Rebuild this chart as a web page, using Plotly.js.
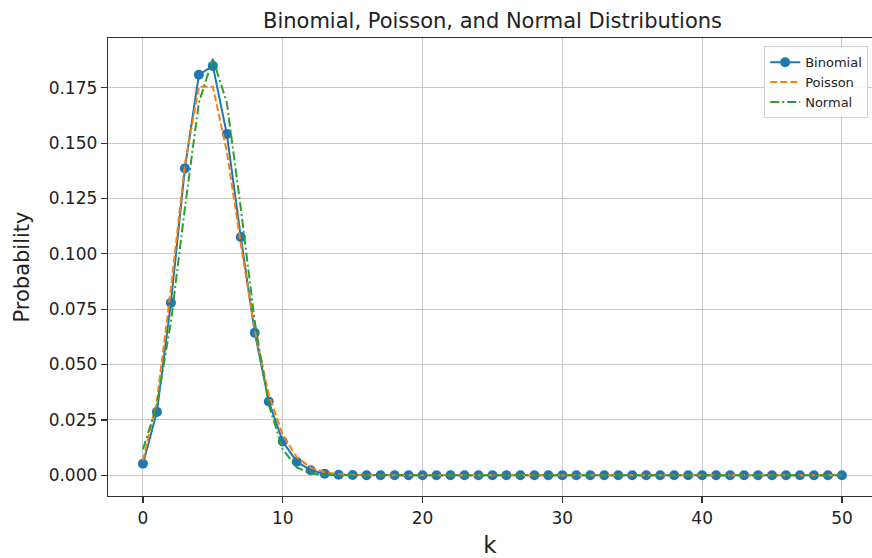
<!DOCTYPE html>
<html>
<head>
<meta charset="utf-8">
<script src="https://cdn.plot.ly/plotly-3.0.1.min.js"></script>
<style>html,body{margin:0;padding:0;background:#fff;}#chart{width:872px;height:558px;}</style>
</head>
<body>
<div id="chart"></div>
<script>
// k values 0..50
const kValues = [0,1,2,3,4,5,6,7,8,9,10,11,12,13,14,15,16,17,18,19,20,21,22,23,24,25,26,27,28,29,30,31,32,33,34,35,36,37,38,39,40,41,42,43,44,45,46,47,48,49,50];

const binomialProb = [0.0052,0.0286,0.0779,0.1386,0.1809,0.1849,0.1541,0.1076,0.0643,0.0333,0.0152,0.0061,0.0022,0.0007,0.0002,0.0001,0,0,0,0,0,0,0,0,0,0,0,0,0,0,0,0,0,0,0,0,0,0,0,0,0,0,0,0,0,0,0,0,0,0,0];

const poissonProb = [0.0067,0.0337,0.0842,0.1404,0.1755,0.1755,0.1462,0.1044,0.0653,0.0363,0.0181,0.0082,0.0034,0.0013,0.0005,0.0002,0,0,0,0,0,0,0,0,0,0,0,0,0,0,0,0,0,0,0,0,0,0,0,0,0,0,0,0,0,0,0,0,0,0,0];

const normalProb = [0.0117,0.0318,0.0692,0.1206,0.1683,0.1881,0.1683,0.1206,0.0692,0.0318,0.0117,0.0035,0.0008,0.0002,0,0,0,0,0,0,0,0,0,0,0,0,0,0,0,0,0,0,0,0,0,0,0,0,0,0,0,0,0,0,0,0,0,0,0,0,0];

const yTickVals = [0,0.025,0.05,0.075,0.1,0.125,0.15,0.175];
const yTickText = ["0.000","0.025","0.050","0.075","0.100","0.125","0.150","0.175"];
const xTickVals = [0,10,20,30,40,50];

const FONT = "DejaVu Sans, sans-serif";

const traces = [
  {x: kValues, y: binomialProb, name: "Binomial", type: "scatter", mode: "lines+markers",
   line: {color: "#1f77b4", width: 2}, marker: {color: "#1f77b4", size: 10}},
  {x: kValues, y: poissonProb, name: "Poisson", type: "scatter", mode: "lines",
   line: {color: "#ff7f0e", width: 2, dash: "7px,3px"}},
  {x: kValues, y: normalProb, name: "Normal", type: "scatter", mode: "lines",
   line: {color: "#2ca02c", width: 2, dash: "9px,3px,2px,3px"}}
];

const layout = {
  width: 872, height: 558,
  margin: {l: 108, r: 0, t: 38, b: 62, pad: 0},
  paper_bgcolor: "#ffffff", plot_bgcolor: "#ffffff",
  font: {family: FONT, color: "#222222", size: 17},
  title: {text: "Binomial, Poisson, and Normal Distributions", font: {family: FONT, size: 21, color: "#222"},
          x: 0.5648, xanchor: "center", y: 0.963, yanchor: "middle"},
  showlegend: true,
  legend: {x: 0.995, xanchor: "right", y: 0.982, yanchor: "top",
           bgcolor: "rgba(255,255,255,0.8)", bordercolor: "#d0d0d0", borderwidth: 1,
           font: {family: FONT, size: 13, color: "#222"}, tracegroupgap: 0},
  xaxis: {range: [-2.5, 52.15], tickvals: xTickVals, ticktext: xTickVals.map(String),
          showgrid: true, gridcolor: "#c8c8c8", gridwidth: 1, zeroline: false,
          showline: true, linecolor: "#333", linewidth: 1.3, mirror: true,
          ticks: "outside", ticklen: 6, tickcolor: "#333", tickwidth: 1.3,
          tickfont: {family: FONT, size: 17, color: "#222"},
          title: {text: "k", font: {family: FONT, size: 23, color: "#222"}, standoff: 10}},
  yaxis: {range: [-0.0094, 0.1975], tickvals: yTickVals, ticktext: yTickText,
          showgrid: true, gridcolor: "#c8c8c8", gridwidth: 1, zeroline: false,
          showline: true, linecolor: "#333", linewidth: 1.3, mirror: false,
          ticks: "outside", ticklen: 6, tickcolor: "#333", tickwidth: 1.3,
          tickfont: {family: FONT, size: 17, color: "#222"},
          title: {text: "Probability", font: {family: FONT, size: 21, color: "#222"}, standoff: 13}}
};

Plotly.newPlot("chart", traces, layout, {displayModeBar: false, staticPlot: true});
</script>
</body>
</html>
